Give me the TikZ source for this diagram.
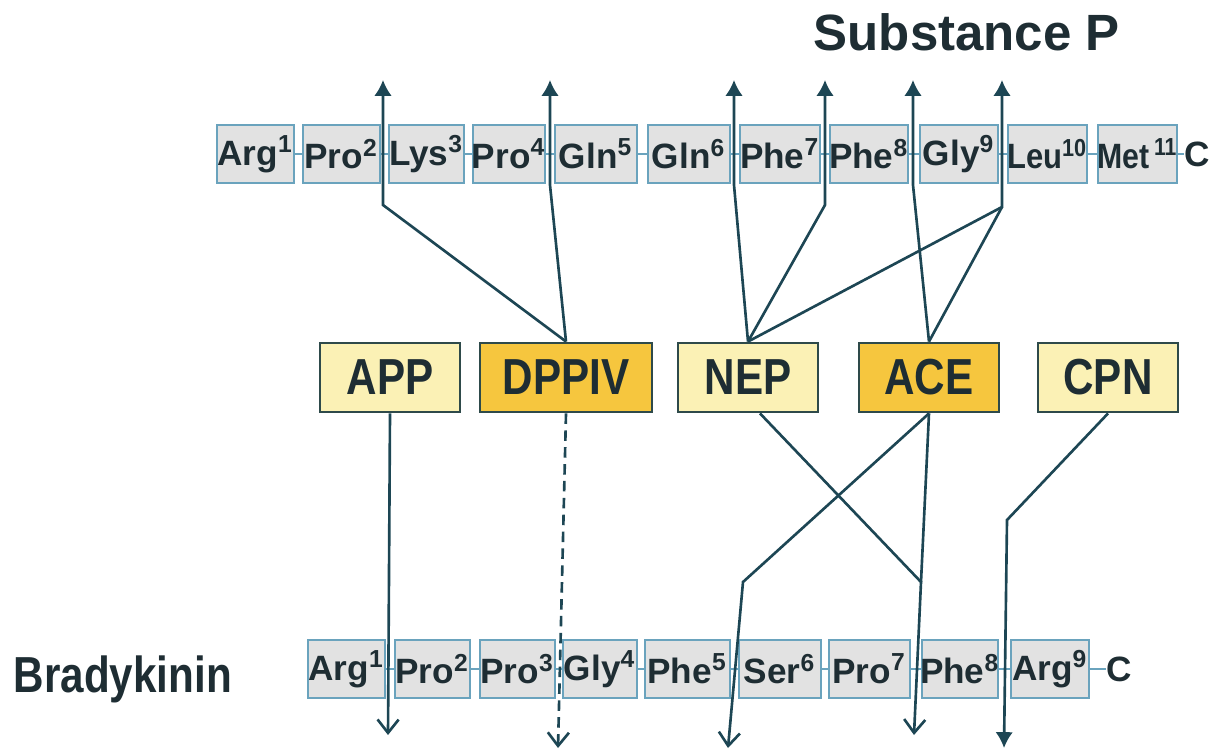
\documentclass[tikz,border=0pt]{standalone}
\usepackage{fontspec}
\usepackage{graphicx}
\setmainfont{Liberation Sans}
\usetikzlibrary{arrows.meta, backgrounds}

\definecolor{inkline}{HTML}{1D4654}
\definecolor{inktext}{HTML}{1E2D33}
\definecolor{resedge}{HTML}{6AA3BD}
\definecolor{resfill}{HTML}{E2E2E2}
\definecolor{enzedge}{HTML}{2E4A4A}
\definecolor{enzpale}{HTML}{FBF1B5}
\definecolor{enzgold}{HTML}{F6C63E}

\newcommand{\tallname}[1]{\scalebox{1}[1.2]{#1}}
\newcommand{\resname}[3]{\makebox[0pt]{\scalebox{#3}[1]{#1\textsuperscript{#2}}}}

\tikzset{
    residue/.style={rectangle, draw=resedge, line width=0.6pt, fill=resfill, text=inktext, font=\fontsize{10}{12}\selectfont\bfseries, inner sep=0pt, minimum height=0.58cm},
    terminus/.style={text=inktext, font=\fontsize{10}{12}\selectfont\bfseries, inner sep=0pt},
    enzyme/.style={rectangle, draw=enzedge, line width=0.8pt, fill=enzpale, text=inktext, font=\fontsize{12}{14}\selectfont\bfseries, minimum width=1.4cm, minimum height=0.69cm},
    peptide/.style={text=inktext, font=\fontsize{14.5}{17}\selectfont\bfseries, inner sep=0pt},
    link/.style={resedge, line width=0.5pt},
    cleave/.style={inkline, line width=0.75pt},
    cleaveup/.style={cleave, -{Latex[length=4.5pt,width=5pt]}},
    cleavedown/.style={cleave, -{Straight Barb[length=3.8pt,width=6pt]}},
    cleavefill/.style={cleave, -{Latex[length=4.5pt,width=5pt]}}
}

\begin{document}
\begin{tikzpicture}[x=0.01cm, y=-0.01cm]
    \useasboundingbox (0,0) rectangle (1221,749);

    % peptide names
    \node[peptide, anchor=base west] (subp) at (813,51) {Substance P};
    \node[peptide, anchor=base west, font=\fontsize{12}{14}\selectfont\bfseries] (brady) at (13,692) {\tallname{Bradykinin}};

    % substance P chain
    \foreach \id/\aa/\pos/\xa/\xb/\sq in {1/Arg/1/217/294/1, 2/Pro/2/303/380/1, 3/Lys/3/389/464/1, 4/Pro/4/473/545/1, 5/Gln/5/555/637/1, 6/Gln/6/648/730/1, 7/Phe/7/740/820/1, 8/Phe/8/830/908/1, 9/Gly/9/920/998/1, 10/Leu/10/1008/1087/0.88, 11/Met\,/11/1098/1177/0.86}
        \node[residue, minimum width={(\xb-\xa)*0.01cm}] (sp\id) at ({(\xa+\xb)/2},154) {\resname{\aa}{\pos}{\sq}};
    \node[terminus] (spC) at (1197,154) {C};

    % bradykinin chain
    \foreach \id/\aa/\pos/\xa/\xb in {1/Arg/1/308/385, 2/Pro/2/395/470, 3/Pro/3/480/555, 4/Gly/4/563/637, 5/Phe/5/645/730, 6/Ser/6/739/821, 7/Pro/7/829/910, 8/Phe/8/922/998, 9/Arg/9/1011/1089}
        \node[residue, minimum width={(\xb-\xa)*0.01cm}] (bk\id) at ({(\xa+\xb)/2},669) {\resname{\aa}{\pos}{1}};
    \node[terminus] (bkC) at (1119,669) {C};

    \begin{scope}[on background layer]
        \draw[link] (sp1.center) -- (spC.west);
        \draw[link] (bk1.center) -- (bkC.west);
    \end{scope}

    % peptidases
    \node[enzyme] (app) at (390,377.5) {\tallname{APP}};
    \node[enzyme, fill=enzgold, minimum width=1.72cm] (dppiv) at (566,377.5) {\tallname{DPPIV}};
    \node[enzyme] (nep) at (748,377.5) {\tallname{NEP}};
    \node[enzyme, fill=enzgold] (ace) at (929,377.5) {\tallname{ACE}};
    \node[enzyme] (cpn) at (1108,377.5) {\tallname{CPN}};

    % cleavage sites in substance P
    \coordinate (tA) at (383,80);
    \coordinate (tB) at (550,80);
    \coordinate (tC) at (734,80);
    \coordinate (tD) at (825,80);
    \coordinate (tE) at (913,80);
    \coordinate (tF) at (1002,80);
    \coordinate (kA) at (383,205);
    \coordinate (kB) at (550,185);
    \coordinate (kC) at (734,185);
    \coordinate (kD) at (825,205);
    \coordinate (kE) at (913,185);
    \coordinate (kF) at (1002,207);

    \draw[cleaveup] (dppiv.north) -- (kA) -- (tA);
    \draw[cleaveup] (dppiv.north) -- (kB) -- (tB);
    \draw[cleaveup] (nep.north) -- (kC) -- (tC);
    \draw[cleaveup] (nep.north) -- (kD) -- (tD);
    \draw[cleaveup] (nep.north) -- (kF) -- (tF);
    \draw[cleaveup] (ace.north) -- (kE) -- (tE);
    \draw[cleave] (ace.north) -- (kF);

    % cleavage sites in bradykinin
    \coordinate (bA) at (388,735);
    \coordinate (bB) at (558,748);
    \coordinate (bC) at (728,748);
    \coordinate (bD) at (914,735);
    \coordinate (bE) at (1004,748);
    \coordinate (mA) at (743,582);
    \coordinate (mB) at (921,582);
    \coordinate (mC) at (1007,520);

    \draw[cleavedown] (app.south) -- (bA);
    \draw[cleavedown, dash pattern=on 3pt off 1.8pt] (dppiv.south) -- (bB);
    \draw[cleavedown] (ace.south) -- (mA) -- (bC);
    \draw[cleavedown] ([xshift=0.12cm]nep.south) -- (mB) -- (bD);
    \draw[cleave] (ace.south) -- (mB);
    \draw[cleavefill] (cpn.south) -- (mC) -- (bE);
\end{tikzpicture}
\end{document}
